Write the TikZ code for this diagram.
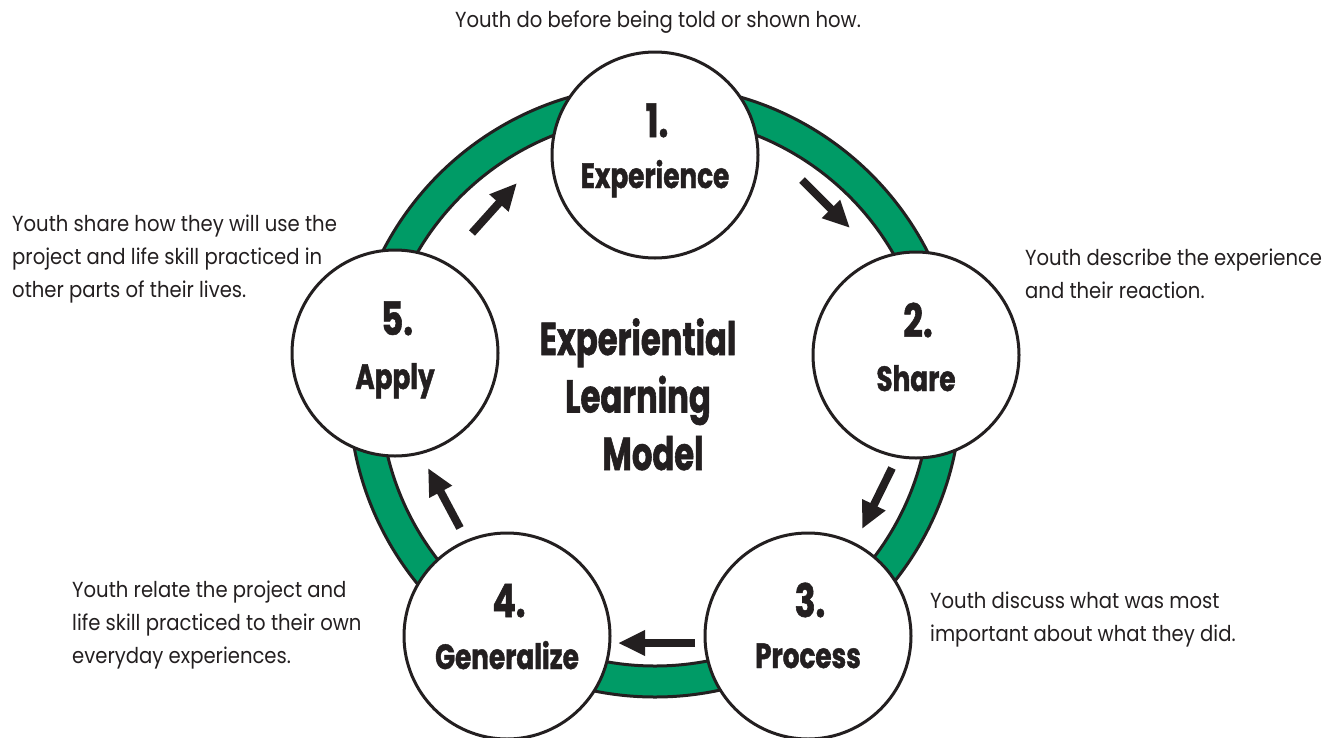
\documentclass[tikz,border=0pt]{standalone}
\usepackage{fontspec}
\setmainfont{Poppins}
\newfontfamily\descfont{Poppins}[FakeStretch=0.9]
\newfontfamily\headfont{Poppins}[FakeStretch=0.75, BoldFeatures={FakeBold=1.2}]
\newfontfamily\titlefont{Poppins}[FakeStretch=0.70, BoldFeatures={FakeBold=1.2}]
\usetikzlibrary{arrows.meta,calc}
\definecolor{ringgreen}{RGB}{0,155,102}
\definecolor{inkgray}{RGB}{35,31,32}
\tikzset{
  stage/.style={circle, draw=inkgray, line width=3pt, fill=white, minimum size=206pt, inner sep=0pt},
  numtxt/.style={text=inkgray, font=\headfont\bfseries\fontsize{46}{46}\selectfont, inner sep=0pt, anchor=base},
  labtxt/.style={text=inkgray, font=\headfont\bfseries\fontsize{35}{35}\selectfont, inner sep=0pt, anchor=base},
  desc/.style={text=inkgray, font=\descfont\fontsize{21.8}{33}\selectfont, inner sep=0pt, align=left},
  flowarrow/.style={draw=inkgray, line width=8pt, -{Triangle[length=27pt,width=24pt]}},
}
\begin{document}
\begin{tikzpicture}[x=1pt,y=-1pt]
\useasboundingbox (0,0) rectangle (1333,737);
% ring
\fill[ringgreen, draw=inkgray, line width=3pt, even odd rule]
  (655,391) circle[radius=306pt] (655,391) circle[radius=275pt];
% stages
\node[stage] (s1) at (655,155) {};
\node[stage] (s2) at (916,355) {};
\node[stage] (s3) at (808,636) {};
\node[stage] (s4) at (507,636) {};
\node[stage] (s5) at (395,353) {};
\node[numtxt] (n1) at ($(s1)+(2,-18)$) {1.};
\node[labtxt] (l1) at ($(s1)+(0,33)$) {Experience};
\node[numtxt] (n2) at ($(s2)+(2,-18)$) {2.};
\node[labtxt] (l2) at ($(s2)+(0,36)$) {Share};
\node[numtxt] (n3) at ($(s3)+(2,-19)$) {3.};
\node[labtxt] (l3) at ($(s3)+(0,32)$) {Process};
\node[numtxt] (n4) at ($(s4)+(2,-19)$) {4.};
\node[labtxt] (l4) at ($(s4)+(0,33)$) {Generalize};
\node[numtxt] (n5) at ($(s5)+(2,-18)$) {5.};
\node[labtxt] (l5) at ($(s5)+(0,36)$) {Apply};
% title
\node[text=inkgray, font=\titlefont\bfseries\fontsize{46}{57.5}\selectfont, align=center, inner sep=0pt, anchor=base] (title) at (638,470) {Experiential\\Learning\\\hspace*{30pt}Model};
% arrows
\coordinate (a1s) at (802,180); \coordinate (a1e) at (850,228);
\coordinate (a2s) at (892,468); \coordinate (a2e) at (862,529);
\coordinate (a3s) at (695,643); \coordinate (a3e) at (618,643);
\coordinate (a4s) at (460,528); \coordinate (a4e) at (428,468);
\coordinate (a5s) at (472,233); \coordinate (a5e) at (517,183);
\draw[flowarrow] (a1s) -- (a1e);
\draw[flowarrow] (a2s) -- (a2e);
\draw[flowarrow] (a3s) -- (a3e);
\draw[flowarrow] (a4s) -- (a4e);
\draw[flowarrow] (a5s) -- (a5e);
% descriptions (base anchor = baseline of the last line)
\node[desc, anchor=base] (d1) at (658,27) {Youth do before being told or shown how.};
\node[desc, anchor=base west] (d2) at (1025,298) {Youth describe the experience\\and their reaction.};
\node[desc, anchor=base west] (d3) at (930,641) {Youth discuss what was most\\important about what they did.};
\node[desc, anchor=base west] (d4) at (72,663) {Youth relate the project and\\life skill practiced to their own\\everyday experiences.};
\node[desc, anchor=base west] (d5) at (12,297) {Youth share how they will use the\\project and life skill practiced in\\other parts of their lives.};
\end{tikzpicture}
\end{document}
